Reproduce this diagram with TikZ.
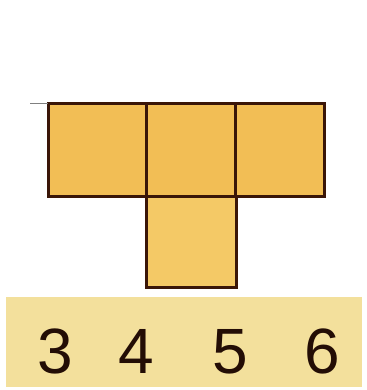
\documentclass[tikz,border=0pt]{standalone}
\usepackage{fontspec}
\setmainfont{Liberation Sans}
\begin{document}
\begin{tikzpicture}[x=1pt,y=-1pt,
  face/.style={draw=facebrown,line width=3pt,fill=faceorange},
  digit/.style={font=\fontsize{64}{64}\selectfont,text=facebrown!60!black,inner sep=0pt,anchor=base}]
\definecolor{facebrown}{HTML}{3A1608}
\definecolor{faceorange}{HTML}{F2BE55}
\definecolor{facelight}{HTML}{F4C966}
\definecolor{bandyellow}{HTML}{F3E09C}
\useasboundingbox (0,0) rectangle (366,390);
\fill[white] (0,0) rectangle (366,390);
\fill[bandyellow] (6,297) rectangle (362,387);
\draw[face] (48,104) rectangle (146,196);
\draw[face] (146,104) rectangle (235,196);
\draw[face] (235,104) rectangle (324,196);
\draw[face,fill=facelight] (146,196) rectangle (236,287);
\coordinate (g1) at (30,103.5);
\coordinate (g2) at (48,103.5);
\draw[gray,line width=0.8pt] (g1) -- (g2);
\node[digit] (d3) at (55,373) {3};
\node[digit] (d4) at (136,373) {4};
\node[digit] (d5) at (230,373) {5};
\node[digit] (d6) at (322,373) {6};
\end{tikzpicture}
\end{document}
